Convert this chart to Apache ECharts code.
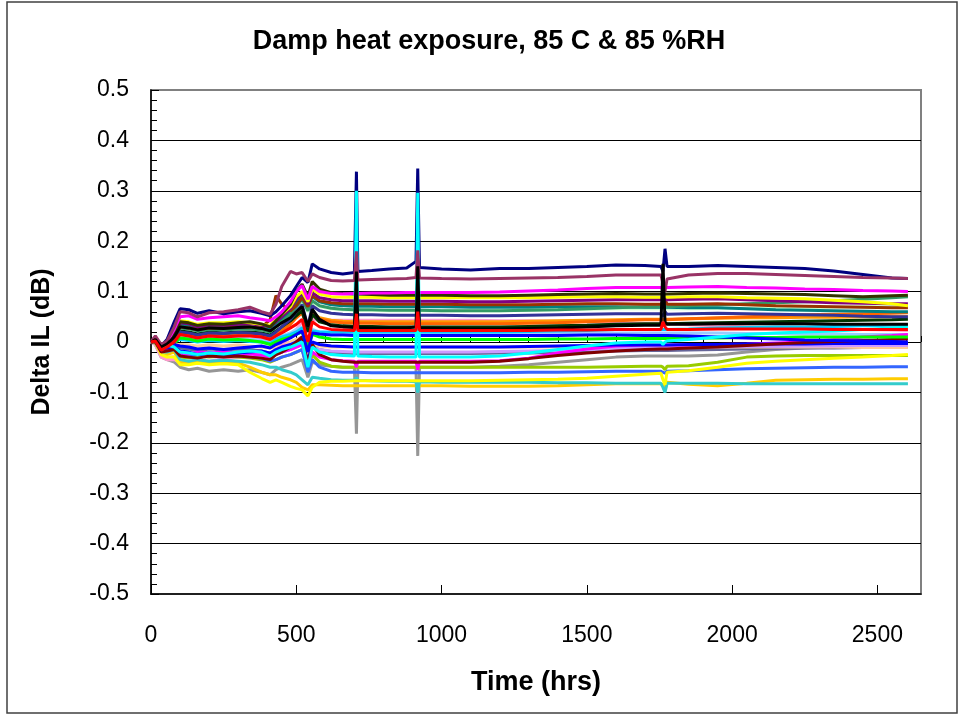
<!DOCTYPE html>
<html>
<head>
<meta charset="utf-8">
<script src="https://cdn.jsdelivr.net/npm/echarts@6/dist/echarts.min.js"></script>
<style>
html,body{margin:0;padding:0;background:#fff;}
#c{width:964px;height:715px;}
</style>
</head>
<body>
<div id="c"></div>
<script>
// Time axis (hours)
const T = [0,15,35,55,80, 100,130,160,200,250,300,340,380,410, 430,450,480,500,520,540,555,580, 620,660,700,707,712,760,820,880,912,918,924, 1000,1100,1200,1300,1400,1500,1600,1700, 1755,1762,1769,1776, 1850,1950,2050,2150,2250,2350,2450,2550,2605];

// Delta IL values, in milli-dB
const navy = [0,10,-8,5,40, 66,64,57,62,56,60,62,57,52, 60,72,92,110,128,118,155,145, 138,135,138,338,140,142,145,147,160,344,148, 145,143,146,146,148,150,153,152, 150,140,185,150, 150,152,150,148,146,141,134,127,126];
const plum = [0,12,-5,2,30, 60,58,50,58,60,64,69,60,55, 75,110,140,135,138,120,135,128, 122,121,122,180,123,124,125,126,128,182,127, 126,125,126,127,128,130,133,133, 133,115,100,125, 133,136,136,134,132,130,128,127,126];
const magenta = [0,8,-10,0,25, 50,52,45,48,50,52,48,45,42, 50,60,80,100,112,85,110,100, 96,95,96,96,96,97,97,98,98,98,98, 98,98,99,101,103,106,108,108, 108,108,108,108, 109,110,108,107,105,104,102,101,100];
const olive = [0,5,-12,-5,15, 40,38,33,36,35,38,40,36,30, 42,55,75,100,115,90,120,105, 98,96,95,95,95,94,93,93,93,93,93, 93,92,92,93,94,95,96,95, 95,95,95,95, 96,97,96,95,94,92,90,92,93];
const yellowUp = [0,6,-10,-2,20, 42,40,35,38,38,40,38,35,33, 45,55,70,90,100,80,105,95, 90,89,89,89,89,89,88,88,88,88,88, 88,88,88,88,89,90,90,89, 89,89,90,89, 90,90,88,87,86,83,80,76,72];
const purple = [0,4,-14,-6,12, 38,36,30,34,33,35,36,33,30, 40,50,66,85,98,75,98,88, 84,82,82,82,82,82,81,81,81,81,81, 81,80,80,81,82,83,84,84, 84,84,84,84, 85,86,84,82,80,78,77,76,76];
const brown = [0,5,-12,-8,8, 30,28,25,28,28,30,30,28,45, 92,75,62,72,88,70,92,82, 78,76,76,76,76,76,75,75,75,75,75, 75,74,74,74,75,76,76,75, 75,80,85,75, 75,76,74,72,71,70,69,68,68];
const teal = [0,8,-8,-2,18, 35,33,28,32,30,32,30,28,25, 35,45,60,78,92,70,90,80, 74,72,71,71,71,71,70,70,70,70,70, 70,69,69,69,70,70,70,69, 69,69,69,69, 68,68,66,64,63,62,61,60,60];
const seagreen = [0,6,-14,-8,8, 28,26,22,25,24,26,26,24,20, 30,40,55,70,85,62,82,72, 67,65,64,64,64,64,63,63,63,63,63, 62,62,62,63,64,66,68,70, 70,70,72,70, 72,74,76,78,80,82,85,88,90];
const lightgreen = [0,10,-6,0,15, 30,28,24,27,26,28,27,25,22, 30,42,55,68,80,60,78,70, 66,64,63,63,63,63,62,62,62,62,62, 62,62,62,63,64,65,66,66, 66,66,66,66, 66,67,67,68,68,69,70,70,70];
const slate = [0,2,-16,-10,5, 20,18,14,18,17,19,18,16,12, 20,30,45,60,74,30,72,62, 57,55,54,54,54,54,53,53,53,53,53, 53,52,52,53,54,55,56,56, 56,50,60,55, 56,57,56,55,54,53,51,50,50];
const pink = [0,-5,-30,-35,-35, -40,-45,-38,-40,-35,-30,-28,-25,-22, -15,-5,10,25,40,20,45,42, 43,43,43,43,43,43,43,43,43,43,43, 43,43,42,42,41,40,38,36, 36,36,36,36, 34,32,30,28,27,26,25,24,23];
const orange = [0,4,-12,-6,5, 15,14,10,14,12,14,13,12,10, 15,22,35,48,58,25,55,45, 40,38,37,37,37,37,36,36,36,36,36, 36,36,36,37,38,40,42,44, 44,44,44,44, 46,48,50,52,54,55,56,57,58];
const orange2 = [0,6,-10,-4,8, 18,16,12,15,14,16,15,13,10, 18,26,38,50,60,30,58,48, 43,41,40,40,40,40,40,40,40,40,40, 40,40,40,41,42,43,44,45, 45,45,45,45, 46,47,48,48,49,49,50,50,50];
const darkgreen = [0,3,-14,-8,5, 22,20,16,20,18,20,20,18,14, 22,30,42,52,62,20,55,40, 34,32,31,31,31,31,30,30,30,30,30, 30,30,30,31,32,33,35,36, 36,36,36,36, 37,38,39,40,41,42,43,44,45];
const black = [0,5,-10,-4,10, 30,28,24,28,27,29,30,27,22, 30,38,48,60,70,30,65,45, 32,30,29,140,29,28,28,28,30,150,28, 27,26,26,27,28,30,32,33, 33,155,40,35, 35,36,36,36,36,35,35,35,35];
const red = [0,2,-16,-10,0, 15,12,8,12,10,12,12,10,5, 12,18,28,35,45,0,40,30, 25,24,23,56,23,23,23,23,23,60,23, 23,23,23,23,24,24,25,25, 25,40,30,25, 25,26,26,26,26,25,25,25,25];
const lightblue = [0,8,-8,-4,5, 10,8,5,8,6,8,6,5,2, 8,12,18,25,30,0,25,20, 18,17,16,16,16,16,16,16,16,16,16, 16,16,16,16,17,17,18,18, 18,18,18,18, 18,18,17,17,16,16,15,15,15];
const blueUp = [0,5,-12,-8,-5, -8,-10,-14,-12,-15,-12,-10,-8,-12, -5,0,8,15,22,-20,18,16, 14,14,13,13,13,13,13,13,13,13,13, 13,13,13,13,13,14,14,13, 13,13,13,13, 12,10,8,6,4,3,2,1,0];
const green = [0,4,-12,-6,-2, 8,6,2,6,4,5,3,0,-5, 0,5,10,15,20,-10,15,10, 6,5,5,5,5,5,5,5,5,5,5, 5,5,5,5,6,6,7,7, 7,7,7,7, 8,8,9,9,10,10,10,10,10];
const blueLow = [0,3,-15,-12,-10, -18,-20,-25,-22,-25,-22,-20,-18,-22, -15,-10,-5,0,5,-40,0,-5, -8,-9,-10,-10,-10,-10,-10,-10,-10,-10,-10, -10,-10,-10,-9,-8,-7,-6,-6, -6,-6,-6,-6, -5,-5,-4,-4,-4,-3,-3,-3,-3];
const lpurple = [0,-3,-28,-30,-30, -38,-42,-35,-38,-33,-30,-30,-28,-30, -25,-20,-15,-10,-5,-35,-10,-15, -18,-19,-20,-20,-20,-20,-20,-20,-20,-20,-20, -20,-20,-19,-18,-17,-15,-13,-12, -12,-12,-12,-12, -11,-10,-9,-9,-8,-8,-7,-7,-7];
const cyan = [0,6,-10,-6,-10, -20,-22,-25,-22,-24,-20,-18,-20,-28, -20,-15,-10,-5,0,-50,-10,-20, -25,-27,-28,300,-28,-29,-30,-30,-30,296,-30, -30,-30,-28,-22,-15,-8,-2,0, 0,-5,0,2, 5,10,15,18,20,22,25,28,30];
const maroon = [0,0,-20,-18,-15, -28,-30,-32,-28,-30,-28,-30,-32,-35, -25,-20,-10,0,10,-45,-5,-25, -35,-38,-40,-40,-40,-40,-40,-40,-40,-40,-40, -40,-40,-38,-33,-27,-22,-18,-15, -14,-14,-14,-14, -12,-10,-7,-4,-1,1,3,5,6];
const gray = [0,-5,-30,-35,-40, -50,-55,-52,-58,-55,-58,-55,-60,-65, -55,-50,-45,-40,-35,-70,-40,-45, -48,-50,-50,-182,-50,-50,-50,-50,-50,-226,-50, -50,-50,-48,-45,-40,-35,-30,-28, -28,-28,-28,-28, -28,-26,-20,-15,-12,-10,-8,-6,-5];
const ygreen = [0,3,-18,-15,-12, -30,-32,-28,-30,-28,-30,-32,-35,-40, -35,-30,-25,-20,-15,-55,-25,-40, -48,-50,-50,-50,-50,-50,-50,-50,-50,-50,-50, -50,-50,-50,-50,-50,-50,-49,-48, -48,-50,-55,-48, -47,-40,-30,-28,-27,-27,-27,-27,-27];
const rblue = [0,2,-20,-16,-12, -25,-28,-25,-28,-26,-28,-30,-32,-38, -35,-30,-25,-20,-15,-60,-35,-50, -58,-60,-60,-60,-60,-61,-61,-61,-61,-61,-61, -61,-61,-61,-60,-60,-59,-58,-58, -58,-60,-62,-58, -57,-55,-53,-52,-51,-50,-50,-49,-49];
const yellowLow = [0,0,-25,-30,-30, -45,-45,-42,-45,-43,-45,-60,-72,-80, -75,-80,-88,-92,-95,-107,-90,-80, -78,-78,-77,-77,-77,-77,-77,-77,-77,-77,-77, -77,-77,-76,-75,-74,-72,-68,-64, -62,-75,-85,-60, -57,-50,-42,-38,-35,-32,-30,-27,-25];
const turq = [0,-2,-20,-20,-15, -35,-38,-35,-38,-36,-38,-40,-45,-50, -50,-55,-60,-65,-75,-85,-70,-72, -75,-76,-76,-70,-76,-77,-78,-78,-79,-100,-79, -80,-80,-80,-80,-81,-81,-82,-82, -82,-90,-100,-82, -82,-82,-83,-83,-83,-83,-83,-83,-83];
const gold = [0,-2,-22,-25,-20, -40,-42,-40,-42,-40,-42,-50,-60,-65, -65,-70,-75,-80,-90,-95,-85,-85, -86,-87,-87,-87,-87,-87,-87,-87,-87,-87,-87, -87,-88,-88,-88,-87,-85,-83,-83, -83,-85,-95,-80, -84,-87,-82,-76,-75,-74,-74,-73,-73];
const peach = [0,4,-14,-10,-5, -5,-6,-8,-6,-8,-6,-8,-10,-12, -10,-5,0,5,10,-25,-5,-8, -10,-10,-10,-10,-10,-10,-10,-10,-10,-10,-10, -10,-10,-10,-10,-10,-10,-10,-10, -10,-10,-10,-10, -10,-10,-10,-10,-10,-10,-11,-11,-11];
const sky = [0,7,-9,-5,0, 5,3,0,3,1,3,1,0,-3, 5,10,15,20,28,-5,22,20, 20,20,20,20,20,20,20,20,20,20,20, 20,20,20,21,22,23,25,25, 25,25,25,25, 26,28,29,30,30,31,32,33,33];
const slategray = [0,3,-14,-12,-8, -12,-14,-18,-14,-16,-14,-15,-18,-22, -18,-12,-5,0,5,-30,-10,-15, -20,-22,-23,-23,-23,-23,-23,-23,-23,-23,-23, -23,-23,-22,-22,-21,-20,-18,-17, -17,-17,-17,-17, -16,-15,-14,-13,-12,-12,-11,-11,-10];
const magenta2 = [0,2,-18,-16,-14, -22,-24,-20,-22,-20,-22,-24,-26,-30, -25,-20,-15,-10,-5,-45,-20,-30, -35,-37,-38,-50,-38,-38,-38,-38,-38,-55,-38, -38,-38,-37,-32,-22,-14,-8,-6, -6,-6,-6,-6, -6,-5,-4,-2,0,5,10,13,15];

// tick labels
const xTickLabels = ['0','500','1000','1500','2000','2500'];
const yTickLabels = ['-0.5','-0.4','-0.3','-0.2','-0.1','0','0.1','0.2','0.3','0.4','0.5'];

// drawing order (first drawn = bottom) and colours
const SERIES = [
  ['gray', gray, '#969696'], ['slategray', slategray, '#666699'], ['peach', peach, '#FFCC99'],
  ['lpurple', lpurple, '#CC99FF'], ['pink', pink, '#FF99CC'], ['lightgreen', lightgreen, '#CCFFCC'],
  ['lightblue', lightblue, '#99CCFF'], ['sky', sky, '#00CCFF'], ['ygreen', ygreen, '#99CC00'],
  ['rblue', rblue, '#3366FF'], ['gold', gold, '#FFCC00'], ['turq', turq, '#33CCCC'],
  ['yellowLow', yellowLow, '#FFFF00'], ['magenta2', magenta2, '#FF00FF'], ['blueLow', blueLow, '#0000FF'],
  ['maroon', maroon, '#800000'], ['green', green, '#00FF00'], ['blueUp', blueUp, '#0000FF'],
  ['orange2', orange2, '#FF9900'], ['orange', orange, '#FF6600'], ['darkgreen', darkgreen, '#003300'],
  ['teal', teal, '#008080'], ['seagreen', seagreen, '#339966'], ['slate', slate, '#333399'],
  ['brown', brown, '#993300'], ['purple', purple, '#800080'], ['yellowUp', yellowUp, '#FFFF00'],
  ['olive', olive, '#333300'], ['magenta', magenta, '#FF00FF'], ['navy', navy, '#000080'],
  ['cyan', cyan, '#00FFFF'], ['plum', plum, '#993366'], ['black', black, '#000000'], ['red', red, '#FF0000']
];

const FONT = '"Liberation Sans", Arial, Helvetica, sans-serif';

const series = SERIES.map(([name, vals, color]) => {
  if (vals.length !== T.length) console.error('length mismatch', name, vals.length);
  return {
    name, type: 'line', showSymbol: false, symbol: 'none', smooth: false,
    data: T.map((t, i) => [t, vals[i] / 1000]),
    lineStyle: { color, width: 3 }, itemStyle: { color },
    silent: true, xAxisIndex: 0, yAxisIndex: 0
  };
});

const chart = echarts.init(document.getElementById('c'), null, { renderer: 'canvas' });
chart.setOption({
  animation: false,
  backgroundColor: '#ffffff',
  grid: { left: 151, top: 90, width: 770, height: 504, show: true, borderColor: '#808080', borderWidth: 2, backgroundColor: 'transparent' },
  xAxis: [
    {
      type: 'value', min: 0, max: 2650, interval: 500, position: 'bottom',
      axisLine: { show: true, onZero: false, lineStyle: { color: '#000', width: 1.5 } },
      axisTick: { show: true, inside: true, length: 9, lineStyle: { color: '#000', width: 1 } },
      axisLabel: { show: true, fontSize: 23, color: '#000', fontFamily: FONT, margin: 30, showMaxLabel: false,
        formatter: v => { const i = xTickLabels.indexOf(String(Math.round(v))); return i >= 0 ? xTickLabels[i] : ''; } },
      splitLine: { show: false }
    },
    {
      type: 'value', min: 0, max: 2650, interval: 100, position: 'bottom', offset: 0,
      axisLine: { show: false },
      axisTick: { show: true, inside: true, length: 6, lineStyle: { color: '#000', width: 1 } },
      axisLabel: { show: false }, splitLine: { show: false }
    }
  ],
  yAxis: {
    type: 'value', min: -0.5, max: 0.5, interval: 0.1,
    axisLine: { show: true, onZero: false, lineStyle: { color: '#000', width: 1.5 } },
    axisTick: { show: true, inside: true, length: 8, lineStyle: { color: '#000', width: 1 } },
    minorTick: { show: true, splitNumber: 5, length: 6, lineStyle: { color: '#000', width: 1 } },
    axisLabel: { fontSize: 23, color: '#000', fontFamily: FONT, margin: 22,
      formatter: v => { const k = Math.round(v * 10); return yTickLabels[k + 5]; } },
    splitLine: { show: true, showMinLine: false, showMaxLine: false, lineStyle: { color: '#000', width: 1 } }
  },
  graphic: [
    { type: 'rect', shape: { x: 7, y: 2, width: 950, height: 711 }, style: { fill: 'none', stroke: '#404040', lineWidth: 1.5 }, silent: true },
    { type: 'text', x: 489, y: 42, style: { text: 'Damp heat exposure, 85 C & 85 %RH', align: 'center', verticalAlign: 'middle', fontSize: 27, fontWeight: 'bold', fontFamily: FONT, fill: '#000' } },
    { type: 'text', x: 536, y: 683, style: { text: 'Time (hrs)', align: 'center', verticalAlign: 'middle', fontSize: 27, fontWeight: 'bold', fontFamily: FONT, fill: '#000' } },
    { type: 'text', x: 42, y: 342, rotation: Math.PI / 2, style: { text: 'Delta IL (dB)', align: 'center', verticalAlign: 'middle', fontSize: 25, fontWeight: 'bold', fontFamily: FONT, fill: '#000' } }
  ],
  series
});
</script>
</body>
</html>
